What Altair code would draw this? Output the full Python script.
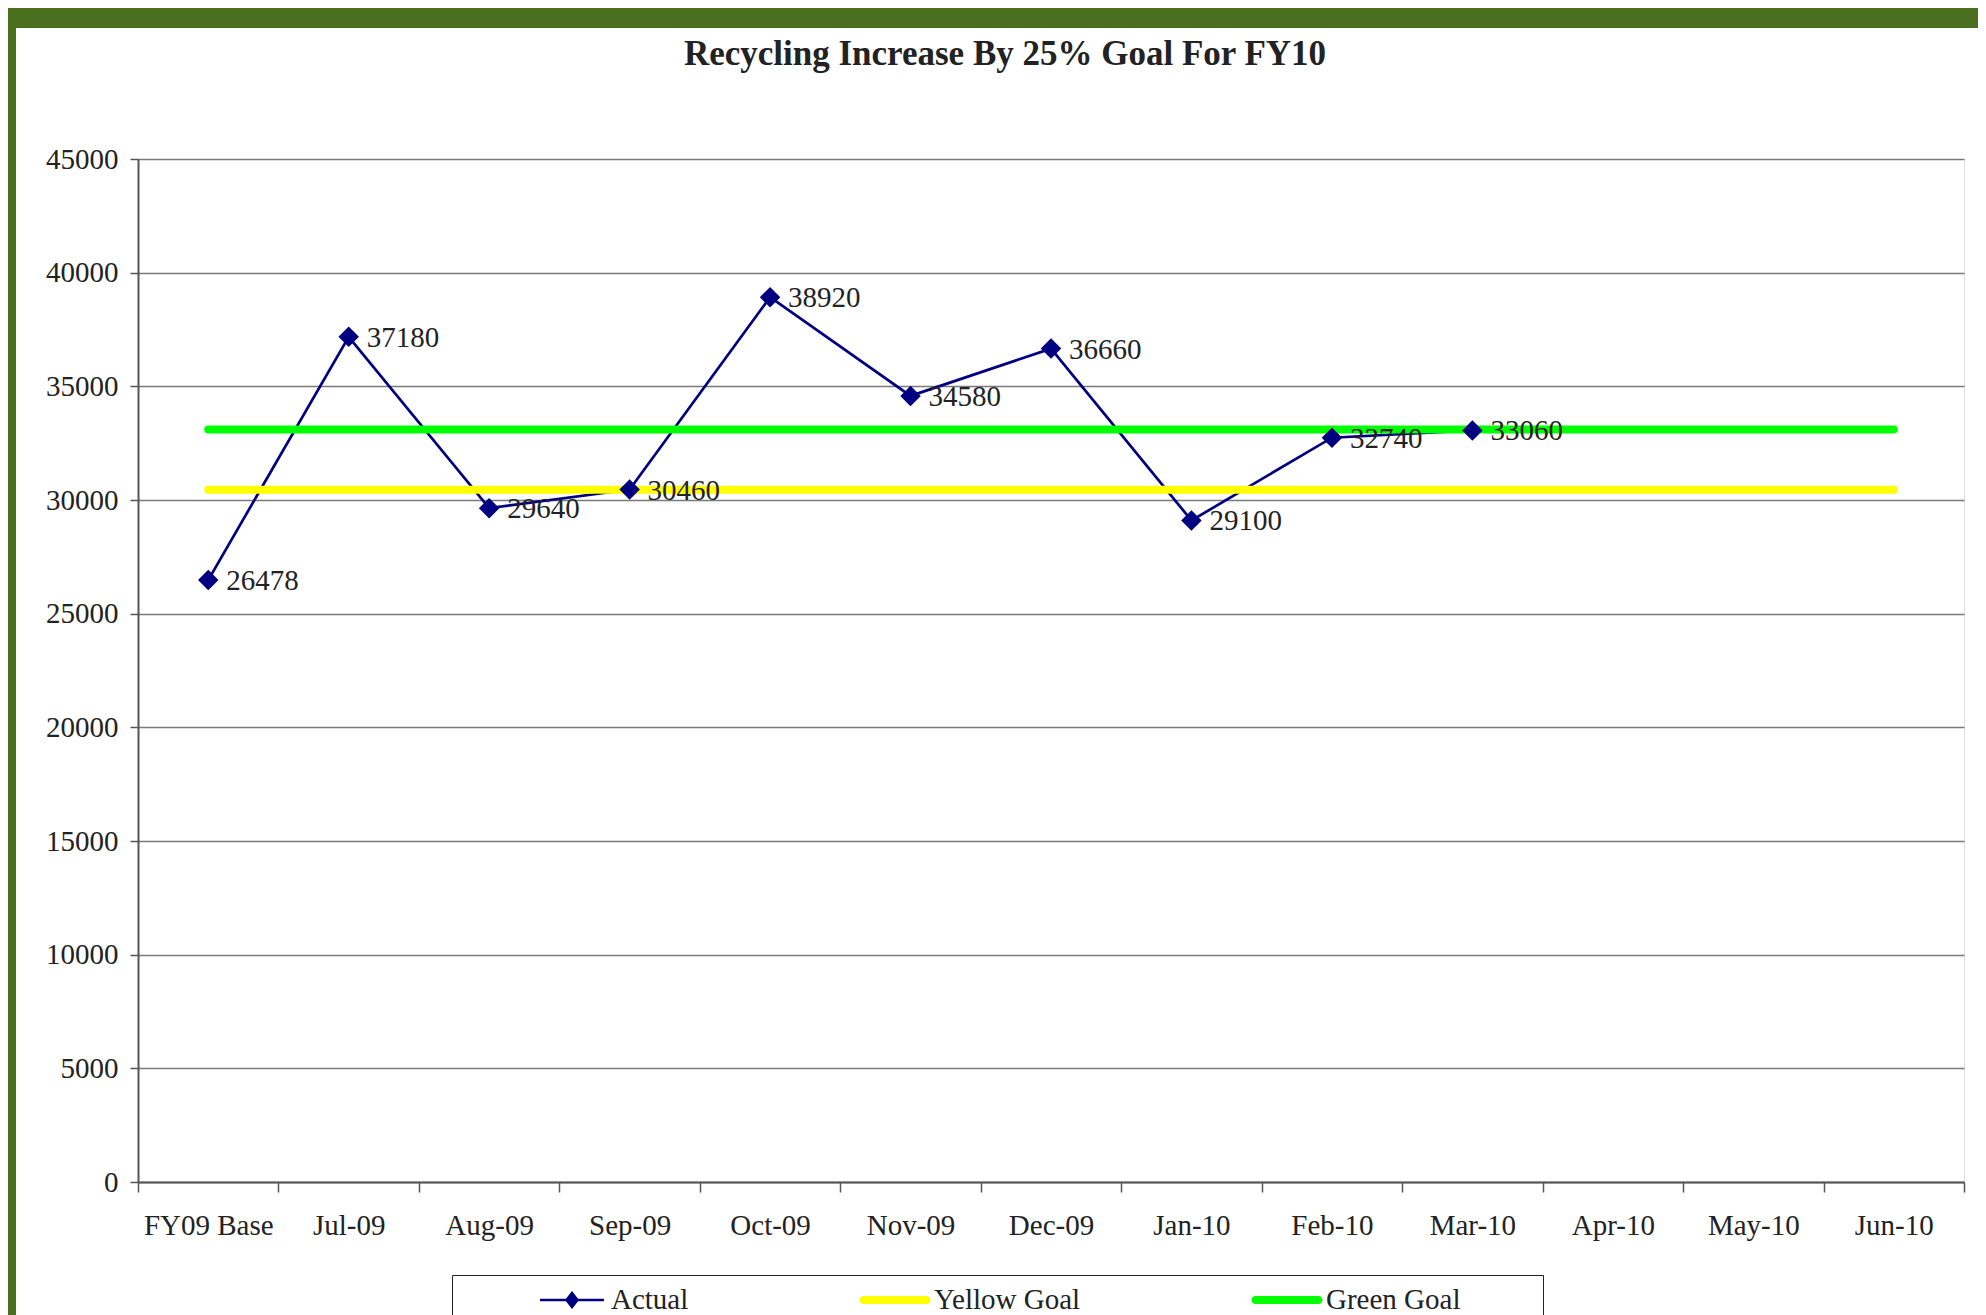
import altair as alt
import pandas as pd

# ---- data ----
months = ["FY09 Base", "Jul-09", "Aug-09", "Sep-09", "Oct-09", "Nov-09", "Dec-09",
          "Jan-10", "Feb-10", "Mar-10", "Apr-10", "May-10", "Jun-10"]
actual = [26478, 37180, 29640, 30460, 38920, 34580, 36660, 29100, 32740, 33060]
yellow_goal = 30450
green_goal = 33098
series_names = ["Actual", "Yellow Goal", "Green Goal"]
series_colors = ["#000080", "#FFFF00", "#00FF00"]
y_ticks = [0, 5000, 10000, 15000, 20000, 25000, 30000, 35000, 40000, 45000]

actual_df = pd.DataFrame({"month": months[:len(actual)], "value": actual})
goals_df = pd.DataFrame({
    "month": months * 2,
    "value": [yellow_goal] * len(months) + [green_goal] * len(months),
    "series": ["Yellow Goal"] * len(months) + ["Green Goal"] * len(months),
})
legend_df = pd.DataFrame({"series": series_names})
frame_df = pd.DataFrame({"part": ["top", "left"]})

FONT = "Liberation Serif"
TXT = "#222222"
FRAME = "#4a6f1e"

# legend symbol shapes (SVG paths, unit = half of sqrt(symbolSize))
path_actual = ("M-2.13,-0.09H2.13V0.09H-2.13Z "
               "M-0.47,0L0,-0.6L0.47,0L0,0.6Z")
path_goal = ("M-2.1,-0.267H2.1A0.267,0.267 0 0 1 2.1,0.267H-2.1"
             "A0.267,0.267 0 0 1 -2.1,-0.267Z")

x_enc = alt.X("month:O", scale=alt.Scale(type="band", domain=months,
                                         paddingInner=0, paddingOuter=0),
              bandPosition=0.5,
              axis=alt.Axis(title=None, labelAngle=0, tickBand="extent",
                            tickSize=10, labelPadding=19, labelFont=FONT,
                            labelFontSize=29, labelColor=TXT,
                            domainColor="#555555", domainWidth=2,
                            tickColor="#555555", tickWidth=1.5, grid=False))
y_enc = alt.Y("value:Q", scale=alt.Scale(domain=[0, 45000], nice=False),
              axis=alt.Axis(title=None, values=y_ticks, format="d",
                            tickSize=8, labelPadding=12, labelFont=FONT,
                            labelFontSize=29, labelColor=TXT,
                            domainColor="#555555", domainWidth=2,
                            tickColor="#555555", tickWidth=1.5,
                            grid=True, gridColor="#7a7a7a", gridWidth=1.3))

actual_line = alt.Chart(actual_df).mark_line(color="#000080", strokeWidth=2.7).encode(
    x=x_enc, y=y_enc)

yellow_line = alt.Chart(goals_df).transform_filter(
    alt.datum.series == "Yellow Goal").mark_line(
    color="#FFFF00", strokeWidth=8, strokeCap="round").encode(x=x_enc, y=y_enc)

green_line = alt.Chart(goals_df).transform_filter(
    alt.datum.series == "Green Goal").mark_line(
    color="#00FF00", strokeWidth=8, strokeCap="round").encode(x=x_enc, y=y_enc)

points = alt.Chart(actual_df).mark_point(
    shape="diamond", filled=True, color="#000080", size=420, opacity=1).encode(
    x=x_enc, y=y_enc)

labels = alt.Chart(actual_df).mark_text(
    align="left", baseline="middle", dx=18, dy=1, font=FONT, fontSize=29,
    color=TXT).encode(x=x_enc, y=y_enc, text=alt.Text("value:Q", format="d"))

# decorative page frame (green band at top and left edge)
frame_top = alt.Chart(frame_df).transform_filter(alt.datum.part == "top").mark_rect(
    color=FRAME, clip=False).encode(
    x=alt.value(-130), x2=alt.value(1840), y=alt.value(-151), y2=alt.value(-131))
frame_left = alt.Chart(frame_df).transform_filter(alt.datum.part == "left").mark_rect(
    color=FRAME, clip=False).encode(
    x=alt.value(-130), x2=alt.value(-122), y=alt.value(-151), y2=alt.value(1160))

legend = alt.Legend(
    orient="none", legendX=314, legendY=1116, direction="horizontal",
    title="\u200b\u2003\u2003\u2003\u200b", titleOrient="left", titleFontSize=26,
    titlePadding=0, titleFont=FONT,
    strokeColor="#222222", padding=10, columnPadding=170,
    labelFont=FONT, labelFontSize=29, labelColor=TXT, labelLimit=500,
    labelOffset=24, symbolOffset=17, symbolSize=900, symbolStrokeWidth=0,
    labelExpr="datum.label == 'Green Goal' ? datum.label + '\u2002\u2002\u2002\u2002\u2002\u200b' : datum.label",
)

legend_layer = alt.Chart(legend_df).transform_filter("false").mark_point(
    filled=True, size=900, opacity=1).encode(
    color=alt.Color("series:N", scale=alt.Scale(domain=series_names, range=series_colors),
                    legend=legend),
    shape=alt.Shape("series:N", scale=alt.Scale(domain=series_names,
                                                range=[path_actual, path_goal, path_goal]),
                    legend=legend),
)

chart = alt.layer(frame_top, frame_left, actual_line, yellow_line, green_line, points,
                  labels, legend_layer).properties(
    width=1826, height=1023,
    title=alt.TitleParams("Recycling Increase By 25% Goal For FY10", font=FONT,
                          fontSize=35, fontWeight="bold", color=TXT, anchor="middle",
                          frame="group", dx=-46, offset=-92, baseline="alphabetic"),
    autosize=alt.AutoSizeParams(type="none"),
    padding={"left": 130, "top": 151, "right": 14, "bottom": 133},
).configure_view(stroke="#9a9a9a", strokeWidth=2).configure(background="white")

chart.save("out.html", embed_options={"renderer": "svg", "actions": False})
